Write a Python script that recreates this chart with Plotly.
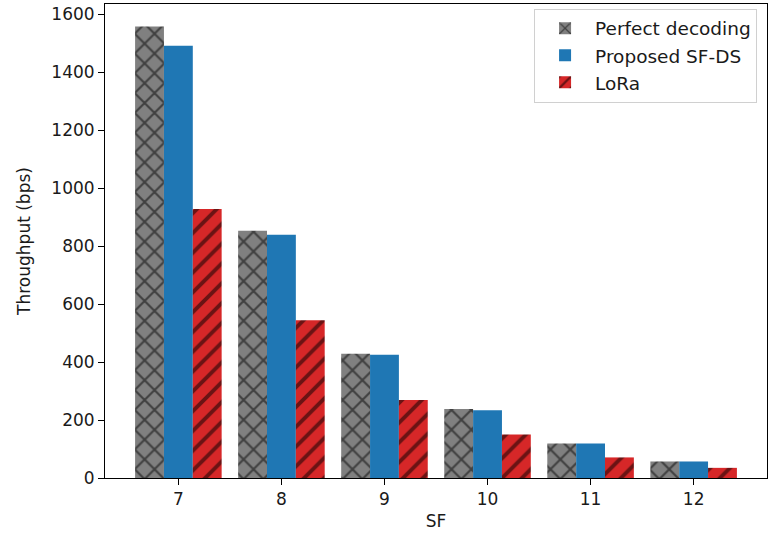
import plotly.graph_objects as go

sf = [7, 8, 9, 10, 11, 12]
perfect = [1557, 853, 429, 238, 119, 57]
proposed = [1491, 839, 425, 234, 119, 57]
lora = [928, 544, 269, 150, 71, 35]
y_ticks = [0, 200, 400, 600, 800, 1000, 1200, 1400, 1600]

font = dict(family="DejaVu Sans", size=17, color="#1a1a1a")

fig = go.Figure()
fig.add_trace(go.Bar(
    x=sf, y=perfect, name="Perfect decoding",
    marker=dict(color="#808080", line=dict(width=0),
                pattern=dict(shape="x", fillmode="overlay", fgcolor="black",
                             size=14, solidity=0.28)),
))
fig.add_trace(go.Bar(
    x=sf, y=proposed, name="Proposed SF-DS",
    marker=dict(color="#1f77b4", line=dict(width=0)),
))
fig.add_trace(go.Bar(
    x=sf, y=lora, name="LoRa",
    marker=dict(color="#d62728", line=dict(width=0),
                pattern=dict(shape="/", fillmode="overlay", fgcolor="black",
                             size=14, solidity=0.28)),
))

fig.update_layout(
    width=768, height=533,
    margin=dict(l=105, r=1, t=4, b=55),
    paper_bgcolor="white", plot_bgcolor="white",
    font=font,
    barmode="group", bargap=0.16, bargroupgap=0,
    showlegend=True,
    legend=dict(x=0.985, y=0.99, xanchor="right", yanchor="top",
                bgcolor="white", bordercolor="#d0d0d0", borderwidth=1,
                font=dict(family="DejaVu Sans", size=18.5, color="#1a1a1a"),
                itemwidth=50, tracegroupgap=2),
    xaxis=dict(range=[6.288, 12.712], tickmode="array", tickvals=sf,
               ticktext=[str(s) for s in sf],
               showline=True, linecolor="black", linewidth=1, mirror=True,
               ticks="outside", ticklen=6, tickcolor="black",
               showgrid=False, zeroline=False,
               title=dict(text="SF", font=font, standoff=6)),
    yaxis=dict(range=[0, 1635], tickmode="array", tickvals=y_ticks,
               showline=True, linecolor="black", linewidth=1, mirror=True,
               ticks="outside", ticklen=6, tickcolor="black",
               showgrid=False, zeroline=False,
               title=dict(text="Throughput (bps)", font=font, standoff=16)),
)

fig.write_html("out.html", config={"displayModeBar": False},
               post_script="document.body.style.margin='0';document.body.style.overflow='hidden';")
